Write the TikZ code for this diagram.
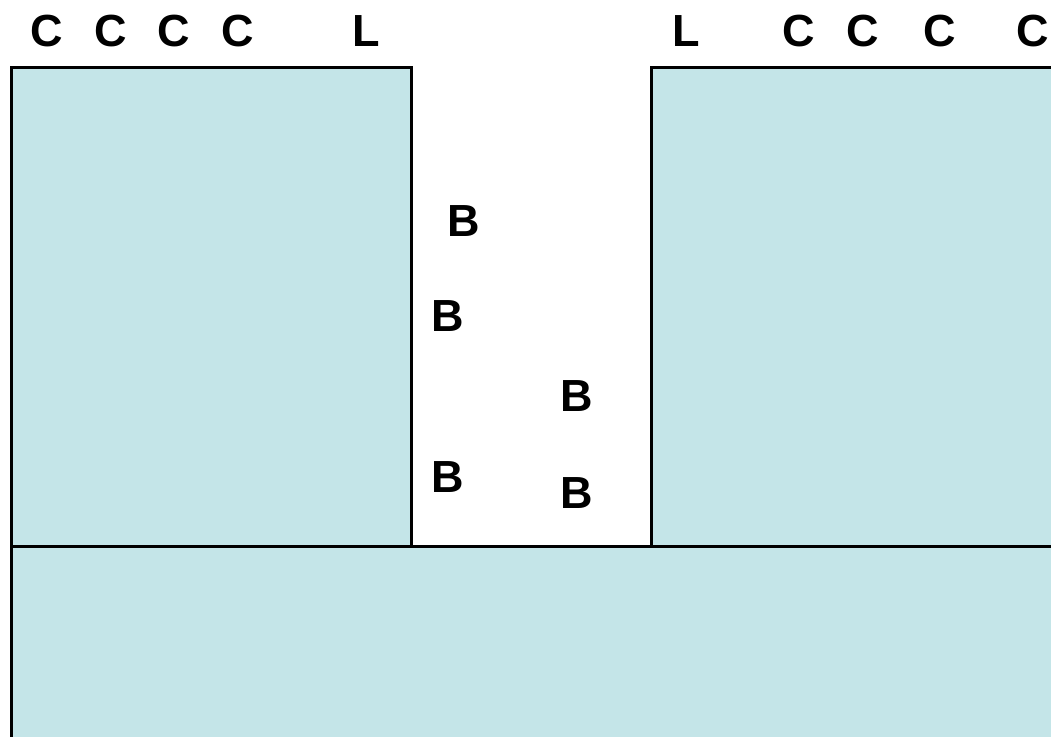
\documentclass[tikz,border=0pt]{standalone}
\usepackage{fontspec}
\setmainfont{Liberation Sans}
\definecolor{blockfill}{HTML}{C4E5E8}
\tikzset{
  block/.style={fill=blockfill, draw=black, line width=3pt},
  lbl/.style={font=\fontsize{45}{54}\selectfont\bfseries, inner sep=0pt, anchor=center}
}
\begin{document}
\begin{tikzpicture}[x=1pt, y=-1pt]
    % Frame
    \useasboundingbox (0,0) rectangle (1051,736);
    \clip (0,0) rectangle (1051,736);

    % Blocks
    \draw[block] (11.5,67) rectangle (411,546);
    \draw[block] (651,67) rectangle (1070,546);
    \draw[block] (11.5,546) rectangle (1070,760);

    % Top labels
    \node[lbl] (c1) at (47,31) {C};
    \node[lbl] (c2) at (111,31) {C};
    \node[lbl] (c3) at (174,31) {C};
    \node[lbl] (c4) at (238,31) {C};
    \node[lbl] (l1) at (366,31) {L};
    \node[lbl] (l2) at (686,31) {L};
    \node[lbl] (c5) at (799,31) {C};
    \node[lbl] (c6) at (863,31) {C};
    \node[lbl] (c7) at (940,31) {C};
    \node[lbl] (c8) at (1033,31) {C};

    % Labels in the gap
    \node[lbl] (b1) at (464,221) {B};
    \node[lbl] (b2) at (448,316) {B};
    \node[lbl] (b3) at (577,396) {B};
    \node[lbl] (b4) at (448,477) {B};
    \node[lbl] (b5) at (577,493) {B};
\end{tikzpicture}
\end{document}
